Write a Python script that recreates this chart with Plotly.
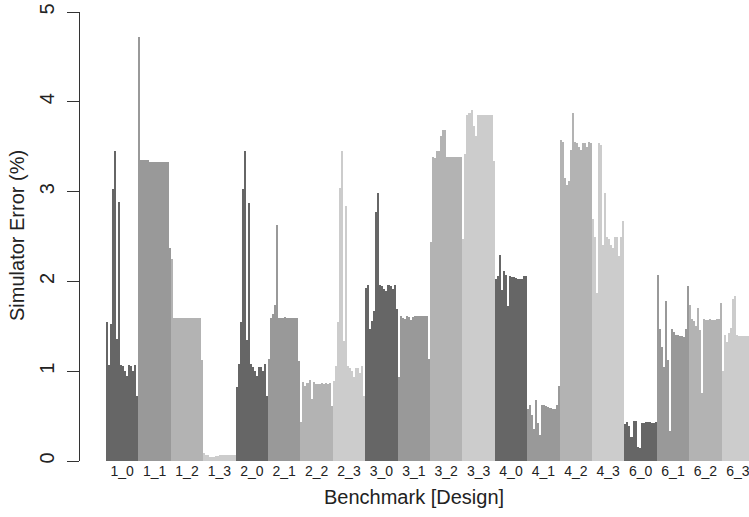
import plotly.graph_objects as go

# Benchmark [Design] categories (x tick labels)
categories = ["1_0", "1_1", "1_2", "1_3", "2_0", "2_1", "2_2", "2_3",
              "3_0", "3_1", "3_2", "3_3", "4_0", "4_1", "4_2", "4_3",
              "6_0", "6_1", "6_2", "6_3"]

# Simulator error (%) for each configuration within a benchmark/design group
err_1_0 = [1.55, 1.07, 1.53, 3.03, 3.45, 1.36, 2.88, 1.07, 1.06, 1.00, 0.95, 1.07, 1.06, 1.00, 1.07, 0.72]
err_1_1 = [4.72, 3.35, 3.35, 3.35, 3.35, 3.33, 3.33, 3.33, 3.33, 3.33, 3.33, 3.33, 3.33, 3.33, 3.33, 2.37]
err_1_2 = [2.25, 1.59, 1.59, 1.59, 1.59, 1.59, 1.59, 1.59, 1.59, 1.59, 1.59, 1.59, 1.59, 1.59, 1.59, 1.12]
err_1_3 = [0.09, 0.07, 0.07, 0.04, 0.04, 0.04, 0.055, 0.055, 0.065, 0.065, 0.065, 0.065, 0.065, 0.065, 0.065, 0.065]
err_2_0 = [0.82, 1.08, 1.55, 3.03, 3.45, 1.35, 2.87, 1.08, 1.05, 1.00, 0.95, 1.05, 1.05, 1.00, 1.08, 0.72]
err_2_1 = [1.14, 1.59, 1.64, 1.74, 2.63, 1.59, 1.59, 1.59, 1.60, 1.59, 1.59, 1.59, 1.59, 1.59, 1.59, 1.11]
err_2_2 = [0.43, 0.88, 0.83, 0.87, 0.90, 0.69, 0.88, 0.86, 0.86, 0.86, 0.87, 0.86, 0.87, 0.86, 0.87, 0.61]
err_2_3 = [0.89, 1.06, 1.55, 3.04, 3.45, 1.34, 2.84, 1.06, 1.04, 1.00, 0.94, 1.04, 1.04, 0.98, 1.06, 0.72]
err_3_0 = [1.93, 1.96, 1.47, 1.56, 1.67, 2.77, 2.99, 1.96, 1.95, 1.91, 1.89, 1.96, 1.95, 1.92, 1.96, 1.69]
err_3_1 = [0.94, 1.61, 1.59, 1.58, 1.61, 1.60, 1.57, 1.60, 1.61, 1.61, 1.61, 1.61, 1.61, 1.61, 1.61, 1.14]
err_3_2 = [2.44, 3.39, 3.37, 3.45, 3.45, 3.62, 3.69, 3.69, 3.39, 3.39, 3.38, 3.39, 3.39, 3.39, 3.39, 3.39]
err_3_3 = [2.47, 3.42, 3.85, 3.88, 3.91, 3.73, 3.62, 3.85, 3.85, 3.85, 3.85, 3.85, 3.85, 3.85, 3.85, 3.34]
err_4_0 = [2.03, 2.06, 2.29, 1.90, 2.12, 2.07, 1.73, 2.06, 2.05, 2.05, 2.04, 2.03, 2.03, 2.03, 2.06, 2.06]
err_4_1 = [0.58, 0.62, 0.51, 0.36, 0.68, 0.42, 0.29, 0.62, 0.62, 0.61, 0.60, 0.59, 0.58, 0.58, 0.62, 0.84]
err_4_2 = [3.58, 3.55, 3.15, 3.07, 3.12, 3.46, 3.88, 3.55, 3.54, 3.50, 3.46, 3.54, 3.54, 3.50, 3.55, 3.54]
err_4_3 = [2.69, 2.49, 1.87, 3.54, 3.52, 2.41, 2.99, 2.49, 2.47, 2.41, 2.37, 2.49, 2.49, 2.28, 2.49, 2.67]
err_6_0 = [0.41, 0.43, 0.39, 0.27, 0.44, 0.44, 0.16, 0.14, 0.42, 0.42, 0.43, 0.43, 0.43, 0.42, 0.42, 0.43]
err_6_1 = [2.07, 1.47, 1.27, 1.05, 1.78, 1.13, 0.33, 1.47, 1.44, 1.40, 1.40, 1.39, 1.39, 1.38, 1.47, 1.95]
err_6_2 = [1.74, 1.58, 1.56, 1.50, 1.70, 1.46, 0.76, 1.58, 1.57, 1.57, 1.58, 1.57, 1.57, 1.58, 1.58, 1.76]
err_6_3 = [1.00, 1.40, 1.32, 1.42, 1.48, 1.80, 1.84, 1.40, 1.39, 1.39, 1.39, 1.39, 1.39, 1.39, 1.39, 1.39]

series = [err_1_0, err_1_1, err_1_2, err_1_3, err_2_0, err_2_1, err_2_2, err_2_3,
          err_3_0, err_3_1, err_3_2, err_3_3, err_4_0, err_4_1, err_4_2, err_4_3,
          err_6_0, err_6_1, err_6_2, err_6_3]

# grey shade per design index (_0, _1, _2, _3)
design_colors = ["#666666", "#999999", "#b3b3b3", "#cccccc"]

xs, ys, cols, widths = [], [], [], []
for g, (cat, vals) in enumerate(zip(categories, series)):
    n = len(vals)
    design = int(cat.split("_")[1])
    for i, v in enumerate(vals):
        xs.append(g + (i + 0.5) / n)
        ys.append(v)
        cols.append(design_colors[design])
        widths.append(1.0 / n)

fig = go.Figure()
fig.add_trace(go.Bar(
    x=xs, y=ys, width=widths,
    marker=dict(color=cols, line=dict(width=0)),
    hoverinfo="x+y", showlegend=False,
))

FONT = "Liberation Sans, Arial, Helvetica, sans-serif"

W, H = 749, 517
L, T, B = 80, 12, 56
PW, PH = W - L, H - T - B

fig.update_layout(
    width=W, height=H,
    margin=dict(l=L, r=0, t=T, b=B, pad=0, autoexpand=False),
    paper_bgcolor="white", plot_bgcolor="white",
    font=dict(family=FONT, color="#222222"),
    bargap=0,
    xaxis=dict(
        range=[-0.8025, -0.8025 + PW / 32.4],
        tickmode="array",
        tickvals=[g + 0.5 for g in range(len(categories))],
        ticktext=categories,
        tickfont=dict(size=14, family=FONT, color="#222222"),
        ticklabeloverflow="allow",
        showline=False, showgrid=False, zeroline=False, ticks="",
        automargin=False,
    ),
    yaxis=dict(
        range=[0, 5],
        tickmode="array",
        tickvals=[0, 1, 2, 3, 4, 5],
        ticktext=["0", "1", "2", "3", "4", "5"],
        tickangle=-90,
        tickfont=dict(size=20, family=FONT, color="#222222"),
        ticks="outside", ticklen=12, tickwidth=1, tickcolor="#333333",
        ticklabelstandoff=5,
        ticklabeloverflow="allow",
        showline=True, linecolor="#333333", linewidth=1,
        showgrid=False, zeroline=False, automargin=False,
    ),
    annotations=[
        dict(text="Benchmark [Design]", xref="paper", yref="paper",
             x=(414 - L) / PW, y=(461 - 497) / PH, xanchor="center", yanchor="middle",
             showarrow=False, font=dict(size=20, family=FONT, color="#222222")),
        dict(text="Simulator Error (%)", xref="paper", yref="paper",
             x=(17 - L) / PW, y=(461 - 236) / PH, xanchor="center", yanchor="middle",
             textangle=-90, showarrow=False,
             font=dict(size=20, family=FONT, color="#222222")),
    ],
)

# remove the default 8px page margin so the figure sits at the window's top-left
fig.write_html("out.html",
               config={"displayModeBar": False},
               post_script="document.body.style.margin='0';document.body.style.padding='0';")
